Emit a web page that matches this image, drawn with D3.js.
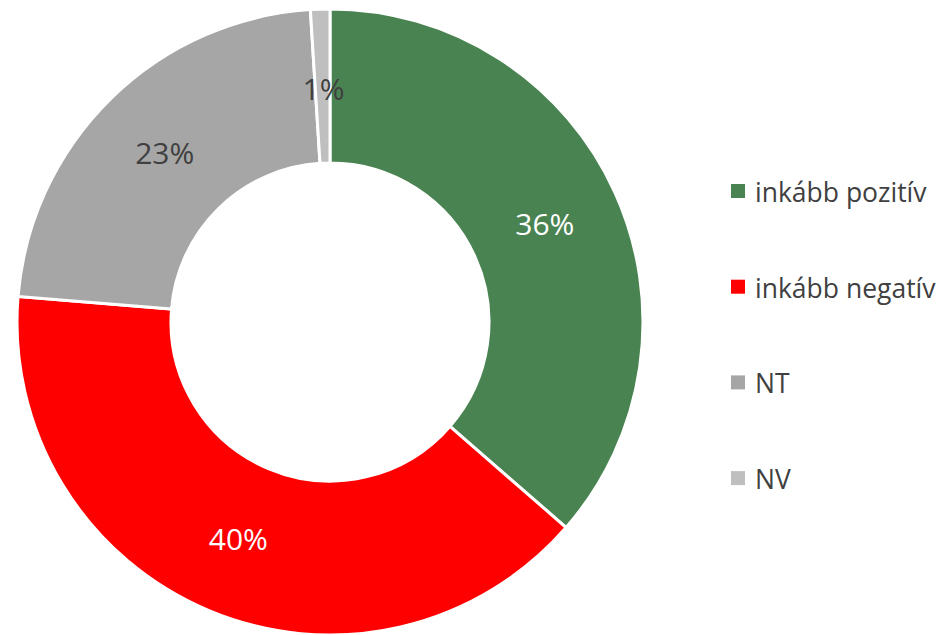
<!DOCTYPE html>
<html>
<head>
<meta charset="utf-8">
<script src="https://cdn.jsdelivr.net/npm/d3@7"></script>
<style>
  body { margin: 0; background: #fff; }
  svg { display: block; font-family: "Open Sans", sans-serif; }
</style>
</head>
<body>
<script>
var categories = ["inkább pozitív", "inkább negatív", "NT", "NV"];
var values = [36.4, 39.9, 22.7, 1.0];
var labels = ["36%", "40%", "23%", "1%"];
var colors = ["#4a8352", "#ff0000", "#a6a6a6", "#bfbfbf"];
var labelColors = ["#ffffff", "#ffffff", "#404040", "#404040"];

var chart = { width: 946, height: 635, cx: 330, cy: 322, outer: 313, inner: 159 };

var data = categories.map(function(c, i) {
  return { name: c, value: values[i], label: labels[i], color: colors[i], labelColor: labelColors[i] };
});

var svg = d3.select('body').append('svg')
  .attr('width', chart.width)
  .attr('height', chart.height);

var pie = d3.pie().sort(null).value(function(d) { return d.value; });
var arc = d3.arc().innerRadius(chart.inner).outerRadius(chart.outer);
var labelArc = d3.arc()
  .innerRadius((chart.inner + chart.outer) / 2)
  .outerRadius((chart.inner + chart.outer) / 2);

var g = svg.append('g').attr('transform', 'translate(' + chart.cx + ',' + chart.cy + ')');

var slices = g.selectAll('path').data(pie(data)).enter().append('path')
  .attr('d', arc)
  .style('fill', function(d) { return d.data.color; })
  .style('stroke', '#fff')
  .style('stroke-width', 3);

g.selectAll('text.lbl').data(pie(data)).enter().append('text')
  .attr('class', 'lbl')
  .attr('transform', function(d) {
    var c = labelArc.centroid(d);
    if (d.data.name === 'NV') c = [c[0] + 1, c[1] + 3];
    return 'translate(' + c[0] + ',' + c[1] + ')';
  })
  .attr('text-anchor', 'middle')
  .attr('dy', '0.36em')
  .style('font-size', '30px')
  .style('fill', function(d) { return d.data.labelColor; })
  .text(function(d) { return d.data.label; });

var legend = svg.append('g').attr('transform', 'translate(731,191)');
var rows = legend.selectAll('g').data(data).enter().append('g')
  .attr('transform', function(d, i) { return 'translate(0,' + (i * 95.7) + ')'; });

rows.append('rect')
  .attr('x', 0).attr('y', -7)
  .attr('width', 14).attr('height', 14)
  .style('fill', function(d) { return d.color; });

rows.append('text')
  .attr('x', 24).attr('y', 11)
  .style('font-size', '26.5px')
  .style('fill', '#404040')
  .text(function(d) { return d.name; });
</script>
</body>
</html>
